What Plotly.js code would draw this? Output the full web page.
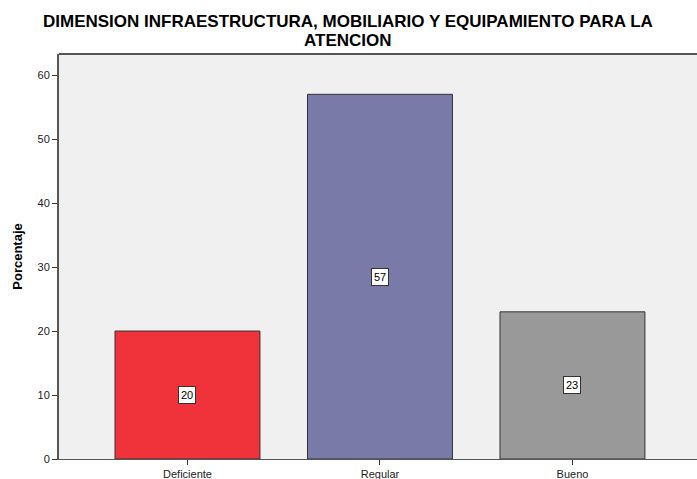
<!DOCTYPE html>
<html>
<head>
<meta charset="utf-8">
<script src="https://cdn.plot.ly/plotly-3.0.1.min.js"></script>
<style>html,body{margin:0;padding:0;background:#fff;}#chart{width:697px;height:479px;}</style>
</head>
<body>
<div id="chart"></div>
<script>
const categories = ["Deficiente", "Regular", "Bueno"];
const values = [20, 57, 23];
const labels = ["20", "57", "23"];
const barColors = ["#f0323a", "#7a7aa8", "#999999"];
const titleLines = ["DIMENSION INFRAESTRUCTURA, MOBILIARIO Y EQUIPAMIENTO PARA LA", "ATENCION"];

const trace = {
  type: "bar",
  x: categories,
  y: values,
  marker: {color: barColors, line: {color: "#333333", width: 1}},
  hoverinfo: "none"
};

const FONT = "Arial, Liberation Sans, sans-serif";

const annotations = categories.map((c, i) => ({
  x: c, y: values[i] / 2, xref: "x", yref: "y",
  text: labels[i], showarrow: false,
  font: {family: FONT, size: 11, color: "#000"},
  bgcolor: "#ffffff", bordercolor: "#333333", borderwidth: 1, borderpad: 2
}));

const titleY = [22, 40];
titleLines.forEach((t, i) => {
  annotations.push({
    xref: "paper", yref: "paper", x: 348 / 697 * 697 / 638 - 59 / 638, y: 1 + (54 - titleY[i]) / 405,
    xanchor: "center", yanchor: "middle", showarrow: false,
    text: "<b>" + t + "</b>",
    font: {family: FONT, size: 17, color: "#000"}
  });
});

const layout = {
  width: 697, height: 479,
  margin: {l: 59, r: 0, t: 54, b: 20, pad: 0},
  paper_bgcolor: "#ffffff",
  plot_bgcolor: "#f0f0f0",
  showlegend: false,
  bargap: 0.247,
  xaxis: {
    type: "category",
    range: [-0.6675, 2.647],
    showgrid: false, zeroline: false,
    showline: true, linecolor: "#555555", linewidth: 1,
    ticks: "outside", ticklen: 5, tickcolor: "#333333",
    tickfont: {family: FONT, size: 11, color: "#222"}
  },
  yaxis: {
    range: [0, 63.3],
    tickvals: [0, 10, 20, 30, 40, 50, 60],
    showgrid: false, zeroline: false,
    showline: true, linecolor: "#555555", linewidth: 2,
    ticks: "outside", ticklen: 5, tickcolor: "#333333",
    tickfont: {family: FONT, size: 11, color: "#222"},
    title: {text: "<b>Porcentaje</b>", font: {family: FONT, size: 13, color: "#000"}, standoff: 12}
  },
  shapes: [
    {type: "line", xref: "paper", yref: "paper", x0: 0, x1: 1, y0: 1, y1: 1, line: {color: "#555555", width: 2}}
  ],
  annotations: annotations
};

Plotly.newPlot("chart", [trace], layout, {displayModeBar: false, staticPlot: true});
</script>
</body>
</html>
